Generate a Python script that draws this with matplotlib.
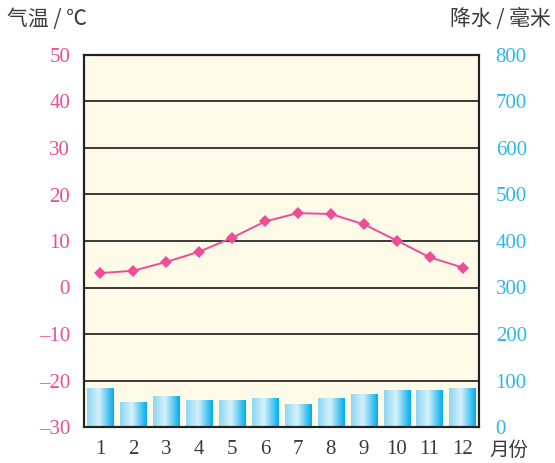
import matplotlib
matplotlib.use("Agg")
import matplotlib.pyplot as plt
import numpy as np
from matplotlib.colors import LinearSegmentedColormap

months = [1, 2, 3, 4, 5, 6, 7, 8, 9, 10, 11, 12]
month_labels = ["1", "2", "3", "4", "5", "6", "7", "8", "9", "10", "11", "12"]
temperature = [3.1, 3.6, 5.5, 7.7, 10.7, 14.2, 16.0, 15.8, 13.6, 10.1, 6.5, 4.3]
precipitation = [83, 54, 67, 58, 58, 62, 49, 62, 71, 80, 80, 83]
temp_ticks = [-30, -20, -10, 0, 10, 20, 30, 40, 50]
precip_ticks = [0, 100, 200, 300, 400, 500, 600, 700, 800]

PINK = "#EE4D96"
BLUE = "#2CB6E9"
TEXT = "#3a3a3a"
SERIF = ["Liberation Serif", "DejaVu Serif"]
CJK = ["Noto Sans CJK SC", "DejaVu Sans"]

fig = plt.figure(figsize=(5.55, 4.63), dpi=100)
ax = fig.add_axes([84 / 555, 36 / 463, 395 / 555, 372 / 463])
ax2 = ax.twinx()

ax.set_xlim(0.5, 12.5)
ax.set_ylim(-30, 50)
ax2.set_xlim(0.5, 12.5)
ax2.set_ylim(0, 800)

# precipitation axis sits below, carries background and gridlines
ax2.set_zorder(1)
ax.set_zorder(2)
ax.patch.set_visible(False)
ax2.patch.set_visible(True)
ax2.patch.set_facecolor("#FEFAE8")
for t in precip_ticks[1:-1]:
    ax2.axhline(t, color="#1a1a1a", lw=1.2, zorder=1)

# bars with horizontal gradient
cmap = LinearSegmentedColormap.from_list(
    "b", [(0.0, "#8FD7F4"), (0.45, "#D6F0FA"), (1.0, "#00ADEE")])
grad = np.linspace(0, 1, 64).reshape(1, -1)
bars = ax2.bar(months, precipitation, width=0.8, color="none", zorder=2)
for b in bars:
    x0, y0 = b.get_x(), b.get_y()
    w, h = b.get_width(), b.get_height()
    im = ax2.imshow(grad, cmap=cmap, aspect="auto",
                    extent=[x0, x0 + w, y0, y0 + h], zorder=2)
    im.set_clip_path(b)
ax2.set_xlim(0.5, 12.5)
ax2.set_ylim(0, 800)

# temperature line
ax.plot(months, temperature, color=PINK, lw=1.4, marker="D", ms=6,
        markeredgewidth=0, zorder=3)

ax.set_yticks(temp_ticks)
ax.set_yticklabels([("\u2013" + str(-t)) if t < 0 else str(t) for t in temp_ticks])
ax2.set_yticks(precip_ticks)
ax2.set_yticklabels([str(p) for p in precip_ticks])
ax.set_xticks(months)
ax.set_xticklabels(month_labels)

ax.tick_params(axis="y", length=0, pad=10, labelcolor=PINK, labelsize=15)
ax2.tick_params(axis="y", length=0, pad=12, labelcolor=BLUE, labelsize=15)
ax.tick_params(axis="x", length=0, pad=9, labelcolor=TEXT, labelsize=15)
for lab in ax.get_xticklabels() + ax.get_yticklabels() + ax2.get_yticklabels():
    lab.set_family(SERIF)

for a in (ax, ax2):
    for s in a.spines.values():
        s.set_color("#222222")
        s.set_linewidth(1.5)

fig.text(7 / 555, 1 - 19 / 463, "气温 / ℃", family=CJK, fontsize=15,
         color=TEXT, va="center", ha="left")
fig.text(551 / 555, 1 - 19 / 463, "降水 / 毫米", family=CJK, fontsize=15,
         color=TEXT, va="center", ha="right")
fig.text(489 / 555, 1 - 450 / 463, "月份", family=CJK, fontsize=14,
         color=TEXT, va="center", ha="left")

fig.savefig("out.png", dpi=100)
